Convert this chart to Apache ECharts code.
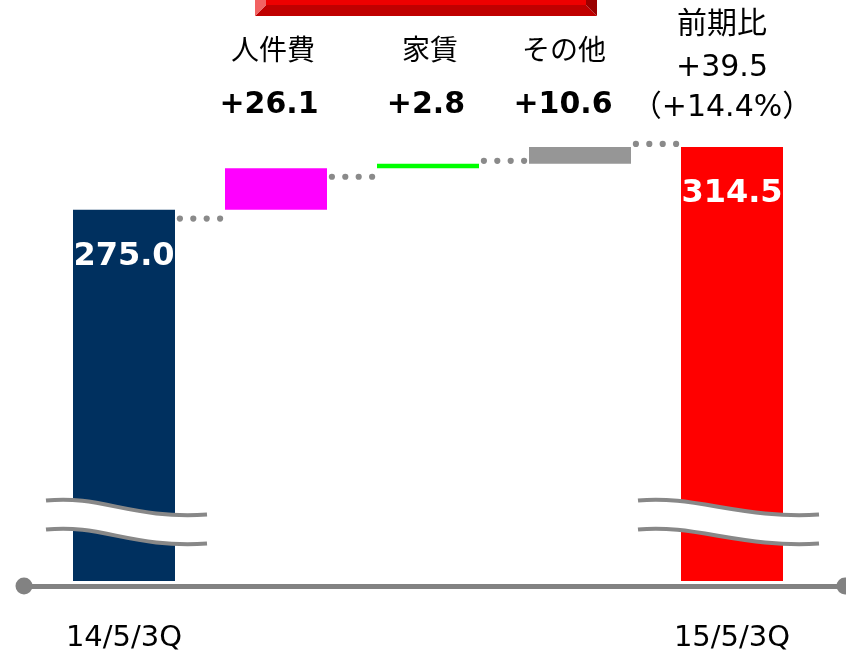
<!DOCTYPE html>
<html>
<head>
<meta charset="utf-8">
<script src="https://cdn.jsdelivr.net/npm/echarts@6/dist/echarts.min.js"></script>
<style>html,body{margin:0;padding:0;background:#fff;}#chart{width:846px;height:653px;}</style>
</head>
<body>
<div id="chart"></div>
<script>
// ---- data ----
const categories = ['14/5/3Q', '人件費', '家賃', 'その他', '15/5/3Q'];
const startValue = 275.0;
const deltas = [26.1, 2.8, 10.6];
const endValue = 314.5;
const changeLines = ['前期比', '+39.5', '（+14.4%）'];
const connectorLevels = [269.5, 295.8, 305.8, 316.4];
const breakLevel = 79;

// ---- styling ----
const barColors = ['#00305F', '#FF00FF', '#00FF00', '#969696', '#FF0000'];
const LATIN = '"DejaVu Sans", "Noto Sans CJK JP", sans-serif';
const CJK = '"Noto Sans CJK JP", "DejaVu Sans", sans-serif';
const labelNudge = [[0, 0], [3, 7], [-2, 2], [16, 17], [10, 10]];
const breakSpan = [[-78, 83], [-94, 87]];

// waterfall construction
const baseData = [0];
let running = startValue;
deltas.forEach(d => { baseData.push(running); running += d; });
baseData.push(0);
const values = [startValue, ...deltas, endValue];

function pad(s) { return s > 0 ? [0, 2 * s, 0, 0] : [0, 0, 0, -2 * s]; }
const rich = {};
categories.forEach((c, i) => {
  rich['n' + i] = { fontFamily: CJK, fontSize: 28, lineHeight: 72, color: '#000', padding: pad(labelNudge[i][0]) };
  rich['v' + i] = { fontFamily: LATIN, fontSize: 30, fontWeight: 'bold', lineHeight: 40, color: '#000', padding: pad(labelNudge[i][1]) };
});
rich.r1 = { fontFamily: LATIN, fontSize: 30, lineHeight: 40, color: '#000', padding: pad(labelNudge[4][0]) };
rich.r2 = { fontFamily: LATIN, fontSize: 30, lineHeight: 46, color: '#000', padding: pad(labelNudge[4][0]) };
rich.r3 = { fontFamily: LATIN, fontSize: 30, lineHeight: 34, color: '#000', padding: pad(labelNudge[4][1]) };

function cubic(x0, y0, x1, y1) {
  return { c1: [x0 + 55, y0 - 6], c2: [x1 - 75, y1 + 5], x0, y0, x1, y1 };
}

const chart = echarts.init(document.getElementById('chart'));
const option = {
  backgroundColor: '#fff',
  animation: false,
  grid: [
    { left: 48, right: 38, top: 135, bottom: 71 },
    { left: 24, right: 1, top: 135, bottom: 67 }
  ],
  xAxis: [
    {
      type: 'category', gridIndex: 0, data: categories,
      axisLine: { show: false }, axisTick: { show: false },
      axisLabel: {
        interval: 0, margin: 43, fontFamily: LATIN, fontSize: 29, color: '#000',
        formatter: (v, i) => (i === 0 || i === categories.length - 1) ? v : ''
      }
    },
    {
      type: 'category', gridIndex: 0, position: 'top', data: categories,
      axisLine: { show: false }, axisTick: { show: false },
      axisLabel: {
        interval: 0, margin: 10, rich: rich,
        formatter: (v, i) => {
          if (i === 0) return '';
          if (i === categories.length - 1)
            return '{r1|' + changeLines[0] + '}\n{r2|' + changeLines[1] + '}\n{r3|' + changeLines[2] + '}';
          return '{n' + i + '|' + v + '}\n{v' + i + '|+' + deltas[i - 1].toFixed(1) + '}';
        }
      }
    },
    {
      type: 'value', gridIndex: 1, min: 0, max: 1,
      axisLine: { show: true, symbol: ['circle', 'circle'], symbolSize: [17, 17], lineStyle: { color: '#828282', width: 5 } },
      axisTick: { show: false }, axisLabel: { show: false }, splitLine: { show: false }
    }
  ],
  yAxis: [
    { type: 'value', gridIndex: 0, min: 42, max: 322, show: false },
    { type: 'value', gridIndex: 1, min: 0, max: 1, show: false }
  ],
  series: [
    {
      type: 'bar', stack: 'w', barWidth: 102, xAxisIndex: 0, yAxisIndex: 0,
      itemStyle: { color: 'rgba(0,0,0,0)' }, data: baseData, silent: true
    },
    {
      type: 'bar', stack: 'w', barWidth: 102, xAxisIndex: 0, yAxisIndex: 0,
      label: {
        show: false, position: 'insideTop', distance: 31, color: '#fff',
        fontFamily: LATIN, fontWeight: 'bold', fontSize: 32,
        formatter: p => p.value.toFixed(1)
      },
      data: values.map((v, i) => ({
        value: v, itemStyle: { color: barColors[i] },
        label: { show: i === 0 || i === values.length - 1 }
      }))
    },
    {
      type: 'custom', xAxisIndex: 0, yAxisIndex: 0, clip: false, z: 5,
      data: connectorLevels.map((lv, i) => [i, lv]),
      renderItem: (params, api) => {
        const p = api.coord([api.value(0), api.value(1)]);
        const band = api.size([1, 0])[0];
        const gc = p[0] + band / 2;
        const children = [-1.5, -0.5, 0.5, 1.5].map(k => ({
          type: 'circle', shape: { cx: gc + k * 13.4, cy: p[1], r: 3.1 },
          style: { fill: '#8a8a8a' }
        }));
        return { type: 'group', children };
      }
    },
    {
      type: 'custom', xAxisIndex: 0, yAxisIndex: 0, clip: false, z: 6,
      data: [[0, breakLevel], [categories.length - 1, breakLevel]],
      renderItem: (params, api) => {
        const p = api.coord([api.value(0), api.value(1)]);
        const span = breakSpan[params.dataIndex];
        const x0 = p[0] + span[0], x1 = p[0] + span[1];
        const up = cubic(x0, p[1] - 21.5, x1, p[1] - 7.5);
        const lo = cubic(x0, p[1] + 7.5, x1, p[1] + 21.5);
        const seg = c => 'M' + c.x0 + ' ' + c.y0 + ' C' + c.c1[0] + ' ' + c.c1[1] + ' ' + c.c2[0] + ' ' + c.c2[1] + ' ' + c.x1 + ' ' + c.y1;
        const fill = seg(up) + ' L' + lo.x1 + ' ' + lo.y1 +
          ' C' + lo.c2[0] + ' ' + lo.c2[1] + ' ' + lo.c1[0] + ' ' + lo.c1[1] + ' ' + lo.x0 + ' ' + lo.y0 + ' Z';
        return {
          type: 'group', children: [
            { type: 'path', shape: { pathData: fill }, style: { fill: '#fff', stroke: null } },
            { type: 'path', shape: { pathData: seg(up) }, style: { fill: null, stroke: '#888', lineWidth: 4 } },
            { type: 'path', shape: { pathData: seg(lo) }, style: { fill: null, stroke: '#888', lineWidth: 4 } }
          ]
        };
      }
    }
  ],
  graphic: [
    { type: 'rect', shape: { x: 266, y: 0, width: 320, height: 5 }, style: { fill: '#EE0000' } },
    { type: 'polygon', shape: { points: [[255, 16], [597, 16], [586, 5], [266, 5]] }, style: { fill: '#C00000' } },
    { type: 'polygon', shape: { points: [[255, 0], [266, 0], [266, 5], [255, 16]] }, style: { fill: '#F26262' } },
    { type: 'polygon', shape: { points: [[586, 0], [597, 0], [597, 16], [586, 5]] }, style: { fill: '#9A0000' } }
  ]
};
chart.setOption(option);
</script>
</body>
</html>
